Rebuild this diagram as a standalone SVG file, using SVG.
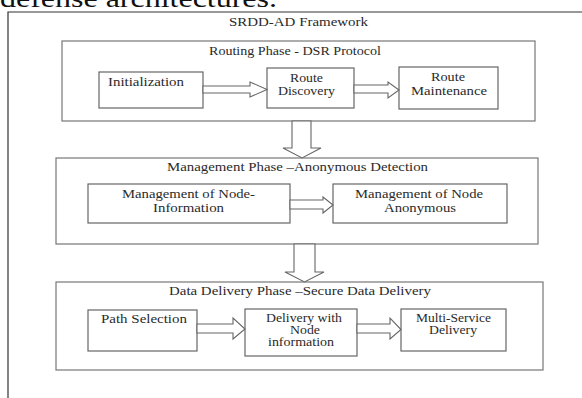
<svg xmlns="http://www.w3.org/2000/svg" width="582" height="398" viewBox="0 0 582 398">
<style>
  .bg{fill:#ffffff}
  .frame{fill:none;stroke:#333;stroke-width:1.2}
  .phase{fill:none;stroke:#777;stroke-width:1.2}
  .box{fill:#fff;stroke:#666;stroke-width:1.2}
  .arrow{fill:#fff;stroke:#666;stroke-width:1.1;stroke-linejoin:miter}
  text{font-family:"Liberation Serif","Times New Roman",serif;font-size:11.5px;fill:#2a2a2a}
  .cap{font-size:26px;fill:#111}
</style>
<rect class="bg" x="0" y="0" width="582" height="398"/>
<text class="cap" x="0" y="7" textLength="277" lengthAdjust="spacingAndGlyphs">defense architectures.</text>
<g id="framework">
  <path class="frame" d="M8,398 V12 H582"/>
  <text x="229" y="26" textLength="139" lengthAdjust="spacingAndGlyphs">SRDD-AD Framework</text>
</g>
<g id="routing-phase">
  <rect class="phase" x="62" y="41" width="473" height="80"/>
  <text x="209" y="55" textLength="172" lengthAdjust="spacingAndGlyphs">Routing Phase - DSR Protocol</text>
</g>
<g id="initialization">
  <rect class="box" x="99" y="72" width="104" height="36"/>
  <text x="108" y="86" textLength="76" lengthAdjust="spacingAndGlyphs">Initialization</text>
</g>
<g id="route-discovery">
  <rect class="box" x="267" y="68" width="87" height="40"/>
  <text x="290" y="82" textLength="33" lengthAdjust="spacingAndGlyphs">Route</text>
  <text x="278" y="95" textLength="57" lengthAdjust="spacingAndGlyphs">Discovery</text>
</g>
<g id="route-maintenance">
  <rect class="box" x="399" y="67" width="99" height="42"/>
  <text x="431" y="81" textLength="34" lengthAdjust="spacingAndGlyphs">Route</text>
  <text x="411" y="95" textLength="76" lengthAdjust="spacingAndGlyphs">Maintenance</text>
</g>
<g id="management-phase">
  <rect class="phase" x="56" y="158" width="482" height="86"/>
  <text x="167" y="171" textLength="261" lengthAdjust="spacingAndGlyphs">Management Phase –Anonymous Detection</text>
</g>
<g id="node-information">
  <rect class="box" x="88" y="184" width="202" height="39"/>
  <text x="122" y="197.5" textLength="133" lengthAdjust="spacingAndGlyphs">Management of Node-</text>
  <text x="153" y="211.5" textLength="71" lengthAdjust="spacingAndGlyphs">Information</text>
</g>
<g id="node-anonymous">
  <rect class="box" x="333" y="184" width="174" height="39"/>
  <text x="355" y="197.5" textLength="128" lengthAdjust="spacingAndGlyphs">Management of Node</text>
  <text x="384" y="211.5" textLength="72" lengthAdjust="spacingAndGlyphs">Anonymous</text>
</g>
<g id="data-delivery-phase">
  <rect class="phase" x="56" y="282" width="487" height="88"/>
  <text x="169" y="295" textLength="262" lengthAdjust="spacingAndGlyphs">Data Delivery Phase –Secure Data Delivery</text>
</g>
<g id="path-selection">
  <rect class="box" x="88" y="310" width="109" height="41"/>
  <text x="101" y="323" textLength="86" lengthAdjust="spacingAndGlyphs">Path Selection</text>
</g>
<g id="delivery-node-info">
  <rect class="box" x="245" y="309" width="112" height="47"/>
  <text x="266" y="322" textLength="76" lengthAdjust="spacingAndGlyphs">Delivery with</text>
  <text x="290" y="334" textLength="30" lengthAdjust="spacingAndGlyphs">Node</text>
  <text x="268" y="346" textLength="66" lengthAdjust="spacingAndGlyphs">information</text>
</g>
<g id="multi-service">
  <rect class="box" x="401" y="309" width="105" height="42"/>
  <text x="416" y="322" textLength="75" lengthAdjust="spacingAndGlyphs">Multi-Service</text>
  <text x="429" y="334" textLength="48" lengthAdjust="spacingAndGlyphs">Delivery</text>
</g>
<g id="connectors">
  <polygon class="arrow" points="203,86 250,86 250,82 267,89.5 250,97 250,93 203,93"/>
  <polygon class="arrow" points="354,85 388,85 388,82 399,90 388,98 388,93 354,93"/>
  <polygon class="arrow" points="290,200 323,200 323,197 333,205 323,213 323,209 290,209"/>
  <polygon class="arrow" points="197,324 233,324 233,318 245,329 233,339 233,333 197,333"/>
  <polygon class="arrow" points="357,324 390,324 390,318 401,329.5 390,339 390,333 357,333"/>
  <polygon class="arrow" points="292,121 292,148 283,148 302,158 321,148 311,148 311,121"/>
  <polygon class="arrow" points="294,244 294,272 285,272 304.5,282 324,272 315,272 315,244"/>
</g>
</svg>
